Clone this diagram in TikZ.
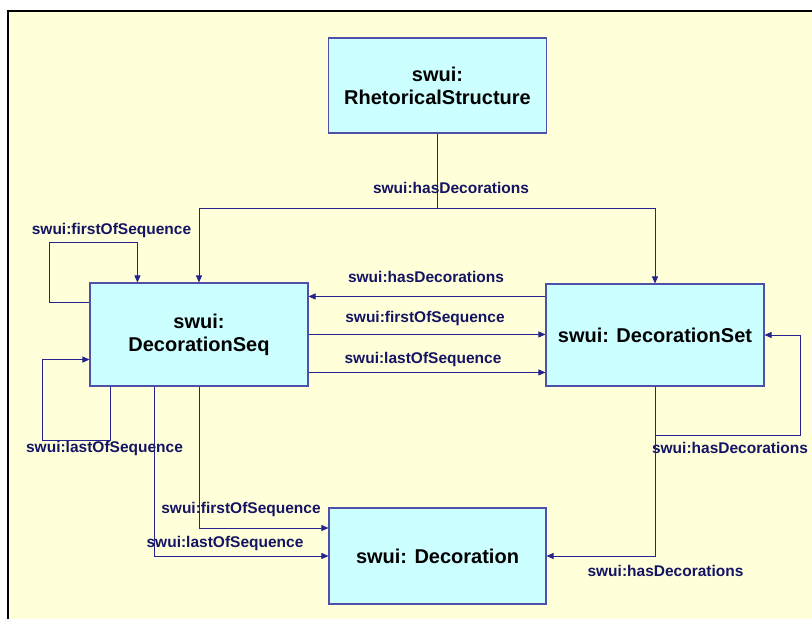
\documentclass[tikz,border=0pt]{standalone}
\usepackage{fontspec}
\setmainfont{Liberation Sans}
\usetikzlibrary{arrows.meta,calc}
\definecolor{bgyellow}{RGB}{255,255,218}
\definecolor{boxfill}{RGB}{204,255,255}
\definecolor{boxline}{RGB}{80,80,170}
\definecolor{conn}{RGB}{36,36,140}
\definecolor{lbltext}{RGB}{20,20,100}
\tikzset{
  box/.style={draw=boxline, line width=1.1pt, fill=boxfill, align=center,
    inner sep=0pt, font=\fontsize{20}{23}\selectfont\bfseries, text=black},
  conline/.style={draw=conn, line width=0.9pt},
  arr/.style={conline, -{Triangle[length=7pt,width=6pt]}},
  lbl/.style={font=\fontsize{15.5}{18}\selectfont\bfseries, text=lbltext, inner sep=0pt}
}
\begin{document}
\begin{tikzpicture}[x=1pt,y=-1pt]
\useasboundingbox (0,0) rectangle (812,619);
\fill[white] (0,0) rectangle (812,619);
\fill[bgyellow] (8,11) rectangle (812,619);
\draw[line width=2pt, black] (7.5,619) -- (7.5,11) -- (812,11);

% boxes
\node[box, minimum width=218pt, minimum height=95pt] (rs) at (437.5,85.5) {swui:\\RhetoricalStructure};
\node[box, minimum width=218pt, minimum height=103pt] (seq) at (199,334.5) {swui:\\DecorationSeq};
\node[box, minimum width=218pt, minimum height=102pt] (set) at (655,335) {swui: DecorationSet};
\node[box, minimum width=217pt, minimum height=96pt] (dec) at (437.5,556) {swui: Decoration};

% rs -> seq, set
\draw[conline] (rs.south) -- (437.5,208) coordinate (j);
\draw[arr] (j) -| (seq.north);
\draw[arr] (j) -| (set.north);
\node[lbl] (l1) at (451,188) {swui:hasDecorations};

% seq self loop first
\draw[arr] ($(seq.north west)+(0,20)$) -- ++(-40,0) -- ++(0,-60) -| ($(seq.north west)+(48,0)$);
\node[lbl] (l2) at (111.5,230) {swui:firstOfSequence};

% seq self loop last
\draw[arr] ($(seq.south west)+(21,0)$) -- ++(0,54) -- ++(-68,0) |- ($(seq.south west)+(0,-27)$);
\node[lbl] (l3) at (104.5,448) {swui:lastOfSequence};

% set -> seq
\draw[arr] ($(set.north west)+(0,13)$) -- ($(seq.north east)+(0,14)$);
\node[lbl] (l4) at (426,277) {swui:hasDecorations};

% seq -> set
\draw[arr] ($(seq.north east)+(0,52)$) -- ($(set.north west)+(0,51)$);
\node[lbl] (l5) at (425,318) {swui:firstOfSequence};
\draw[arr] ($(seq.north east)+(0,90)$) -- ($(set.north west)+(0,89)$);
\node[lbl] (l6) at (423,359) {swui:lastOfSequence};

% set self loop
\draw[arr] (set.south) -- ++(0,49) -| ($(set.east)+(36,0)$) -- (set.east);
\node[lbl] (l7) at (730,448) {swui:hasDecorations};

% set -> dec
\draw[arr] (set.south) |- (dec.east);
\node[lbl] (l8) at (665.5,571) {swui:hasDecorations};

% seq -> dec
\draw[arr] (seq.south) |- ($(dec.west)+(0,-28)$);
\node[lbl] (l9) at (241,509) {swui:firstOfSequence};
\draw[arr] ($(seq.south)+(-45,0)$) |- (dec.west);
\node[lbl] (l10) at (225,543) {swui:lastOfSequence};
\end{tikzpicture}
\end{document}
